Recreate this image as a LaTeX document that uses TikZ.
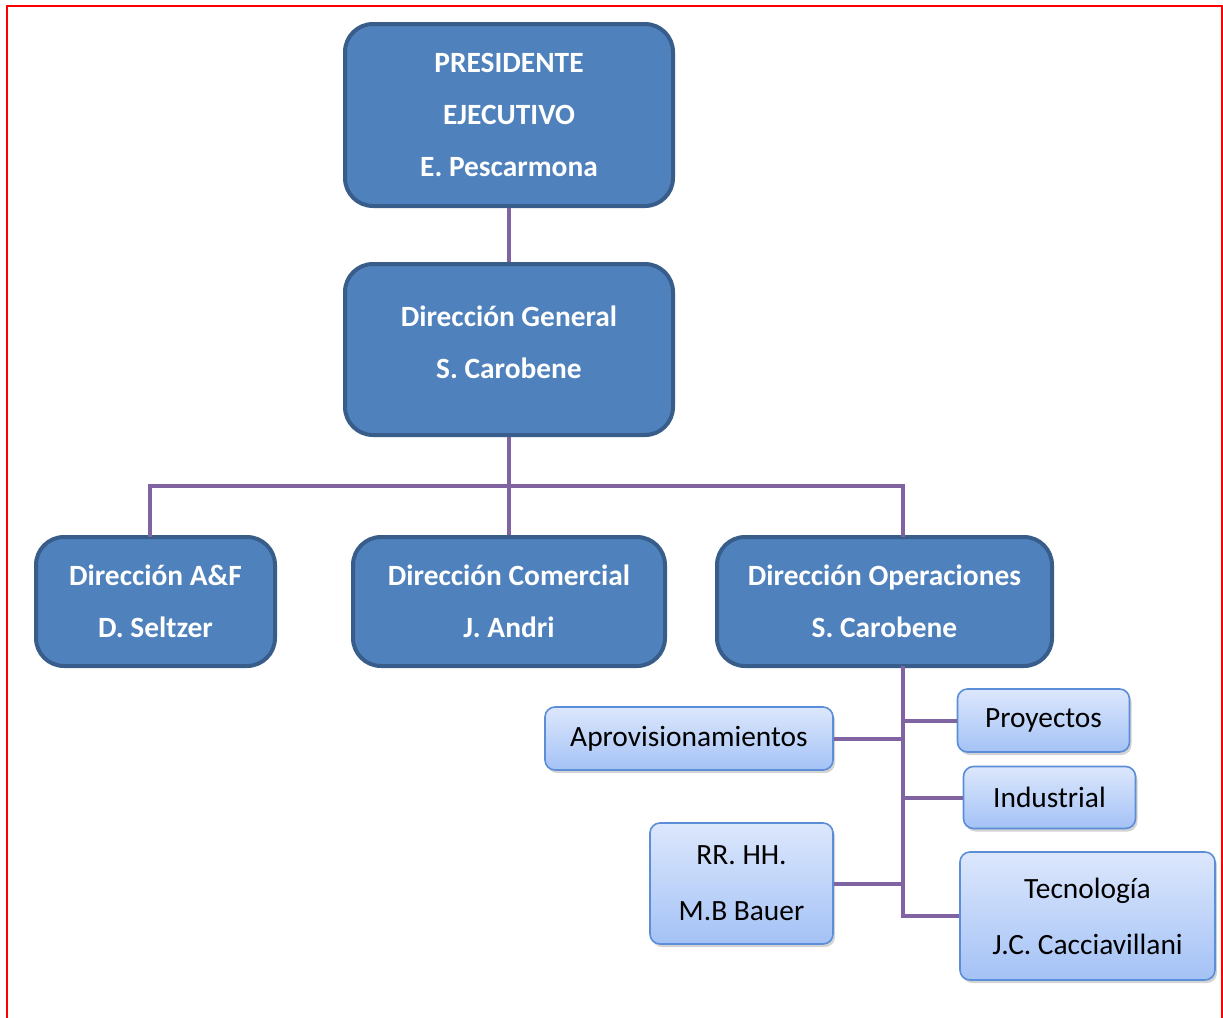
\documentclass[tikz,border=0pt]{standalone}
\usepackage{fontspec}
\setmainfont{Carlito}
\usetikzlibrary{shadows}
\definecolor{boxfill}{HTML}{4F81BD}
\definecolor{boxline}{HTML}{385D8A}
\definecolor{subtop}{HTML}{DCE7FC}
\definecolor{subbot}{HTML}{A4C2F6}
\definecolor{subline}{HTML}{5B8ED6}
\definecolor{linkcol}{HTML}{8064A2}
\tikzset{
  mainbox/.style={draw=boxline, line width=2pt, fill=boxfill, rounded corners=14pt,
    text=white, font=\fontsize{14.7}{26}\selectfont\bfseries, align=center, inner sep=0pt},
  subbox/.style={draw=subline, line width=0.8pt, top color=subtop, bottom color=subbot,
    rounded corners=5pt, font=\fontsize{14.7}{28}\selectfont, align=center, inner sep=0pt,
    drop shadow={opacity=0.35, shadow xshift=1pt, shadow yshift=-1.5pt}},
  link/.style={draw=linkcol, line width=2pt}
}
\begin{document}
\begin{tikzpicture}[x=0.5pt, y=-0.5pt]
  \useasboundingbox (0, 0) rectangle (1223, 1018);
  \draw[red, line width=1pt] (7, 1030) -- (7, 6) -- (1221.5, 6) -- (1221.5, 1030);

  \node[mainbox, minimum width=164pt, minimum height=91pt] (pres) at (509, 115)
    {PRESIDENTE\\EJECUTIVO\\E. Pescarmona};
  \node[mainbox, minimum width=164pt, minimum height=85.5pt] (dg) at (509, 349.5)
    {Dirección General\\S. Carobene\\[-19pt]};
  \node[mainbox, minimum width=119.5pt, minimum height=64.5pt] (af) at (155.5, 601.5)
    {Dirección A\&F\\D. Seltzer};
  \node[mainbox, minimum width=156pt, minimum height=64.5pt] (com) at (509, 601.5)
    {Dirección Comercial\\J. Andri};
  \node[mainbox, minimum width=167.5pt, minimum height=64.5pt] (ope) at (884.5, 601.5)
    {Dirección Operaciones\\S. Carobene};

  \node[subbox, minimum width=144pt, minimum height=31.5pt] (apro) at (689, 738.5)
    {Aprovisionamientos};
  \node[subbox, minimum width=86pt, minimum height=31.5pt] (proy) at (1043.5, 720.5)
    {Proyectos};
  \node[subbox, minimum width=86pt, minimum height=31pt] (ind) at (1049.5, 797.5)
    {Industrial};
  \node[subbox, minimum width=91.5pt, minimum height=60.5pt] (rrhh) at (741.5, 883.5)
    {RR. HH.\\M.B Bauer};
  \node[subbox, minimum width=127.5pt, minimum height=64pt] (tec) at (1087.5, 916)
    {Tecnología\\J.C. Cacciavillani};

  \coordinate (opin) at (903, 537);
  \coordinate (opout) at (903, 666);
  \coordinate (afin) at (150, 537);

  \draw[link] (pres) -- (dg);
  \draw[link] (dg.south) -- (com.north);
  \draw[link] (dg.south) -- ++(0, 49) -| (afin);
  \draw[link] (dg.south) -- ++(0, 49) -| (opin);
  \draw[link] (opout) -- (opout |- tec.west) -- (tec.west);
  \draw[link] (opout |- proy.west) -- (proy.west);
  \draw[link] (opout |- apro.east) -- (apro.east);
  \draw[link] (opout |- ind.west) -- (ind.west);
  \draw[link] (opout |- rrhh.east) -- (rrhh.east);
\end{tikzpicture}
\end{document}
